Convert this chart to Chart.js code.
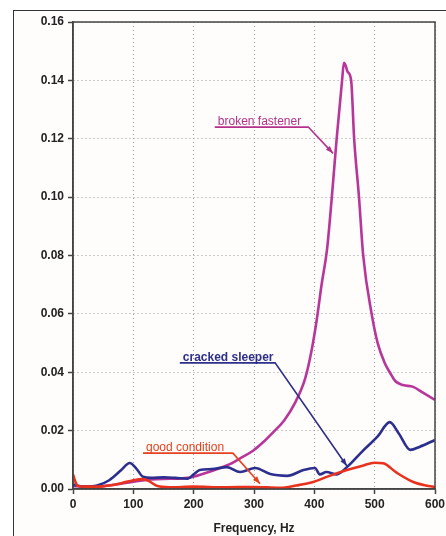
<!DOCTYPE html>
<html lang="en">
<head>
  <meta charset="UTF-8">
  <title>Track response spectrum</title>
  <script src="https://cdn.jsdelivr.net/npm/chart.js"></script>
  <style>
    body {
      margin: 0;
      background: #ffffff;
      font-family: 'Liberation Sans', Arial, sans-serif;
    }
    .frame {
      position: absolute;
      left: 13px;
      top: 10px;
      width: 460px;
      height: 560px;
      border-left: 1px solid #333;
      border-top: 1px solid #333;
      background: #fefdfb;
    }
    canvas {
      position: absolute;
      left: 0;
      top: 0;
    }
  </style>
</head>
<body>
<div class="frame"></div>
<canvas id="chart" width="446" height="536"></canvas>

<script>
  // values (Hz / amplitude)
  const goodHz = [0, 3, 8, 20, 40, 60, 80, 100, 116, 125, 140, 160, 200, 250, 300, 343, 370, 398, 425, 454, 480, 500, 514, 537, 564, 585, 600];
  const goodVals = [0.005, 0.003, 0.001, 0.0008, 0.0008, 0.0012, 0.002, 0.003, 0.0034, 0.0028, 0.001, 0.0006, 0.0008, 0.0006, 0.0007, 0.0004, 0.0012, 0.0024, 0.0045, 0.0065, 0.008, 0.009, 0.0088, 0.0055, 0.0024, 0.0012, 0.0007];

  const sleeperHz = [0, 20, 40, 60, 80, 94, 105, 116, 130, 150, 170, 190, 200, 210, 230, 255, 277, 302, 327, 355, 382, 401, 409, 420, 437, 454, 480, 505, 525, 540, 559, 575, 600];
  const sleeperVals = [0.0015, 0.0008, 0.0012, 0.003, 0.0065, 0.0089, 0.007, 0.0042, 0.0038, 0.004, 0.0038, 0.0035, 0.005, 0.0065, 0.0068, 0.0075, 0.0058, 0.0072, 0.0051, 0.0045, 0.0065, 0.0072, 0.005, 0.0058, 0.005, 0.0075, 0.013, 0.018, 0.0229, 0.019, 0.0134, 0.0145, 0.0168];

  const fastenerHz = [0, 20, 50, 80, 100, 130, 160, 190, 220, 244, 260, 277, 299, 315, 332, 350, 368, 385, 395, 404, 412, 421, 429, 437, 446, 449, 452, 455, 461, 466, 474, 481, 495, 505, 517, 525, 534, 547, 564, 580, 600];
  const fastenerVals = [0.001, 0.0008, 0.001, 0.0018, 0.0025, 0.0033, 0.0035, 0.0038, 0.0055, 0.0072, 0.0085, 0.0105, 0.0132, 0.016, 0.0195, 0.0235, 0.0295, 0.038, 0.047, 0.058, 0.07, 0.082, 0.10, 0.12, 0.14, 0.146, 0.145, 0.143, 0.14, 0.12, 0.10, 0.08, 0.06, 0.05, 0.043, 0.04, 0.037, 0.0356, 0.035, 0.033, 0.0305];

  // callouts: text, underline start/end (Hz), underline level, arrow tip (Hz, value)
  const callouts = [
    { text: 'broken fastener', color: '#b4318c', bold: false, x0: 235, x1: 390, y: 0.124, tipX: 431, tipY: 0.115 },
    { text: 'cracked sleeper', color: '#2d2f8a', bold: true, x0: 177, x1: 335, y: 0.0432, tipX: 454, tipY: 0.0079 },
    { text: 'good condition', color: '#e8401e', bold: false, x0: 116, x1: 265, y: 0.0123, tipX: 310, tipY: 0.0018 }
  ];

  const toPoints = (xs, ys) => xs.map((x, i) => ({ x, y: ys[i] }));
  const font = "'Liberation Sans', Arial, sans-serif";

  const frameBox = {
    id: 'frameBox',
    afterDraw(chart) {
      const { ctx, chartArea: a } = chart;
      ctx.save();
      ctx.strokeStyle = '#444';
      ctx.lineWidth = 1.5;
      ctx.strokeRect(a.left, a.top, a.right - a.left, a.bottom - a.top);
      ctx.restore();
    }
  };

  const calloutPlugin = {
    id: 'callouts',
    afterDatasetsDraw(chart) {
      const { ctx, scales: { x, y } } = chart;
      ctx.save();
      callouts.forEach(c => {
        const px0 = x.getPixelForValue(c.x0);
        const px1 = x.getPixelForValue(c.x1);
        const py = y.getPixelForValue(c.y);
        const tx = x.getPixelForValue(c.tipX);
        const ty = y.getPixelForValue(c.tipY);
        ctx.fillStyle = c.color;
        ctx.strokeStyle = c.color;
        ctx.font = (c.bold ? 'bold ' : '') + '12px ' + font;
        ctx.textBaseline = 'alphabetic';
        ctx.fillText(c.text, px0 + 3, py - 2);
        ctx.lineWidth = 1.6;
        ctx.beginPath();
        ctx.moveTo(px0, py);
        ctx.lineTo(px1, py);
        ctx.lineTo(tx, ty);
        ctx.stroke();
        // arrow head
        const ang = Math.atan2(ty - py, tx - px1);
        const len = 8;
        ctx.beginPath();
        ctx.moveTo(tx, ty);
        ctx.lineTo(tx - len * Math.cos(ang - 0.35), ty - len * Math.sin(ang - 0.35));
        ctx.lineTo(tx - len * Math.cos(ang + 0.35), ty - len * Math.sin(ang + 0.35));
        ctx.closePath();
        ctx.fill();
      });
      ctx.restore();
    }
  };

  const tickFont = { family: font, size: 12, weight: 'bold' };

  new Chart(document.getElementById('chart').getContext('2d'), {
    type: 'line',
    data: {
      datasets: [
        { label: 'good condition', data: toPoints(goodHz, goodVals), borderColor: '#e8321e', borderWidth: 2.6 },
        { label: 'cracked sleeper', data: toPoints(sleeperHz, sleeperVals), borderColor: '#2d2f8f', borderWidth: 2.6 },
        { label: 'broken fastener', data: toPoints(fastenerHz, fastenerVals), borderColor: '#b8359a', borderWidth: 2.6 }
      ]
    },
    options: {
      responsive: false,
      animation: false,
      layout: { padding: { left: 0, right: 0, top: 22, bottom: 0 } },
      elements: {
        point: { radius: 0 },
        line: { cubicInterpolationMode: 'monotone', fill: false }
      },
      plugins: { legend: { display: false }, tooltip: { enabled: false } },
      scales: {
        x: {
          type: 'linear',
          min: 0,
          max: 600,
          ticks: { stepSize: 100, color: '#222', font: tickFont, padding: 3, maxRotation: 0 },
          grid: { color: '#999', lineWidth: 1, tickLength: 5, tickColor: '#444', tickBorderDash: [], tickWidth: 1.5 },
          border: { color: '#444', width: 1.5, dash: [1, 3] },
          title: { display: true, text: 'Frequency, Hz', color: '#222', font: tickFont, padding: { top: 3, bottom: 0 } },
          afterFit(scale) {
            scale.height = 47;
            scale.paddingRight = 11; // let the "600" label run to the edge like the original
          }
        },
        y: {
          min: 0,
          max: 0.16,
          ticks: { stepSize: 0.02, color: '#222', font: tickFont, padding: 4, callback: v => v.toFixed(2) },
          grid: { color: '#999', lineWidth: 1, tickLength: 5, tickColor: '#444', tickBorderDash: [], tickWidth: 1.5 },
          border: { color: '#444', width: 1.5, dash: [1, 3] },
          afterFit(scale) { scale.width = 73; }
        }
      }
    },
    plugins: [frameBox, calloutPlugin]
  });
</script>
</body>
</html>
